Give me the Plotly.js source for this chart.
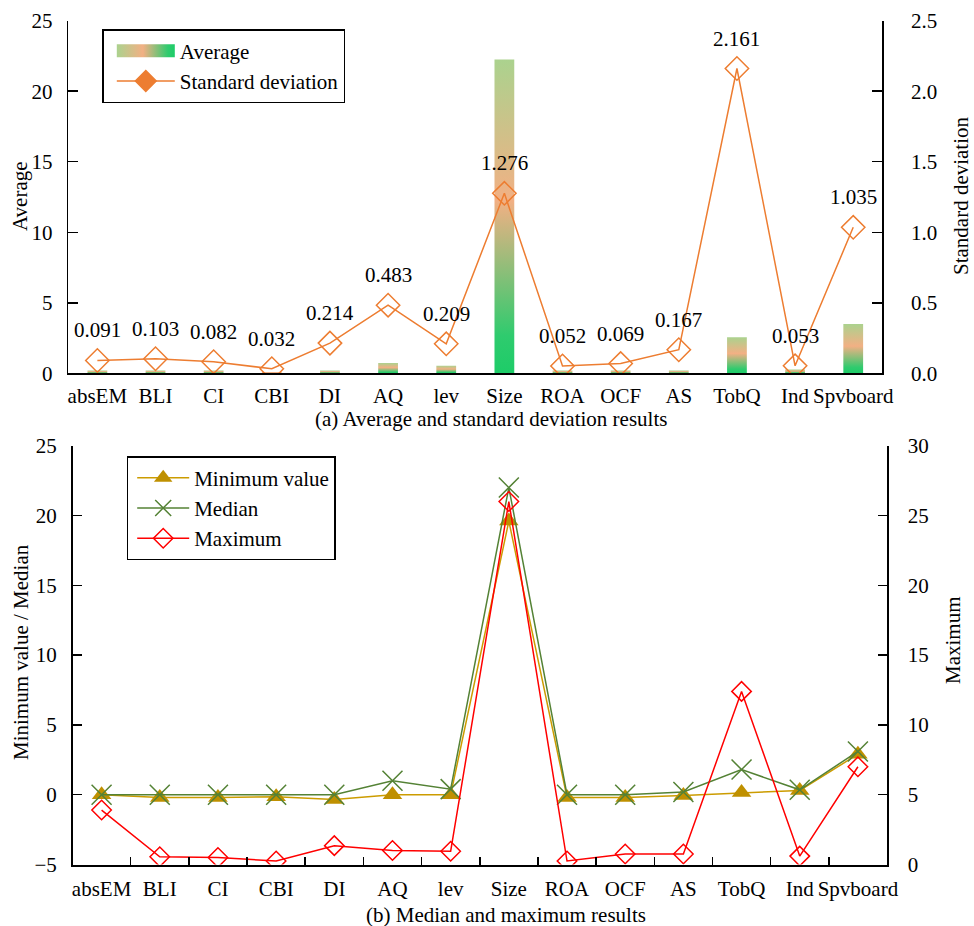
<!DOCTYPE html>
<html><head><meta charset="utf-8">
<script src="https://cdn.plot.ly/plotly-3.0.1.min.js"></script>
<style>html,body{margin:0;padding:0;background:#fff;} #chart{width:974px;height:926px;}</style>
</head><body><div id="chart"></div>
<script>
const categories = ['absEM','BLI','CI','CBI','DI','AQ','lev','Size','ROA','OCF','AS','TobQ','Ind','Spvboard'];
const averageValues = [0.2,0.2,0.2,0.1,0.2,0.73,0.54,22.25,0.2,0.2,0.2,2.55,0.27,3.5];
const stdValues = [0.091,0.103,0.082,0.032,0.214,0.483,0.209,1.276,0.052,0.069,0.167,2.161,0.053,1.035];
const minValues = [0.0,-0.2,-0.2,-0.15,-0.35,0.0,0.0,19.6,-0.2,-0.2,-0.05,0.15,0.3,2.9];
const medianValues = [0.0,0.0,0.0,0.0,0.0,1.0,0.4,22.0,0.0,0.0,0.2,1.8,0.35,3.1];
const maxValues = [3.9,0.55,0.5,0.25,1.35,1.0,0.95,26.0,0.25,0.75,0.75,12.4,0.6,7.0];
const avgTicks = [0,5,10,15,20,25];
const stdTicks = [0,0.5,1.0,1.5,2.0,2.5];
const minMedTicks = [-5,0,5,10,15,20,25];
const maxTicks = [0,5,10,15,20,25,30];

const FONT = 'Liberation Serif, Times New Roman, serif';
const W = 974, H = 926;
const px = v => v / W;
const py = v => 1 - v / H;

const traces = [
  {type:'bar', name:'Average', x:categories, y:averageValues, xaxis:'x', yaxis:'y',
   width:0.34, marker:{color:'#F2B084'}, legend:'legend'},
  {type:'scatter', mode:'lines+markers', name:'Standard deviation', x:categories, y:stdValues,
   xaxis:'x', yaxis:'y2', line:{color:'#ED7D31', width:1.5},
   marker:{symbol:'diamond-open', size:18, color:'#ED7D31', line:{width:1.5, color:'#ED7D31'}}, legend:'legend'},
  {type:'scatter', mode:'lines+markers', name:'Minimum value', x:categories, y:minValues,
   xaxis:'x2', yaxis:'y3', line:{color:'#CC9C00', width:1.5},
   marker:{symbol:'triangle-up', size:17, color:'#BF9000'}, legend:'legend2'},
  {type:'scatter', mode:'lines+markers', name:'Median', x:categories, y:medianValues,
   xaxis:'x2', yaxis:'y3', line:{color:'#548235', width:1.5},
   marker:{symbol:'x-thin-open', size:20, color:'#548235', line:{width:1.5, color:'#548235'}}, legend:'legend2'},
  {type:'scatter', mode:'lines+markers', name:'Maximum', x:categories, y:maxValues,
   xaxis:'x2', yaxis:'y4', line:{color:'#FF0000', width:1.5},
   marker:{symbol:'diamond-open', size:15, color:'#FF0000', line:{width:1.5, color:'#FF0000'}}, legend:'legend2'}
];

const tickFont = {family:FONT, size:21, color:'#000'};
const baseY = {showgrid:false, zeroline:false, showline:true, linecolor:'#000', linewidth:1.5,
  ticks:'inside', ticklen:10, tickwidth:1.5, tickcolor:'#000', tickfont:tickFont, fixedrange:true};

const annotations = stdValues.map((v,i)=>({
  x:categories[i], y:v, xref:'x', yref:'y2', yshift:30, showarrow:false,
  xanchor:'center', yanchor:'middle',
  text:v.toFixed(3), font:{family:FONT, size:21, color:'#000'}
}));
const titleFont = {family:FONT,size:21,color:'#000'};
function pa(x, y, text, angle){
  return {xref:'paper', yref:'paper', x:px(x), y:py(y), text:text, textangle:angle||0, showarrow:false,
    xanchor:'center', yanchor:'middle', font:titleFont, borderpad:0};
}
annotations.push(
  pa(20, 196, 'Average', -90),
  pa(961, 196, 'Standard deviation', -90),
  pa(491, 419, '(a) Average and standard deviation results'),
  pa(21, 652, 'Minimum value / Median', -90),
  pa(953, 640, 'Maximum', -90),
  pa(506, 915, '(b) Median and maximum results')
);

const layout = {
  width:W, height:H, margin:{l:0,r:0,t:0,b:0}, paper_bgcolor:'#fff', plot_bgcolor:'rgba(0,0,0,0)',
  font:{family:FONT, size:21, color:'#000'}, showlegend:true, hovermode:false, barmode:'overlay',
  xaxis:{domain:[px(68.3), px(882.3)], anchor:'y', type:'category', categoryarray:categories, range:[-0.5,13.5],
    showline:true, linecolor:'#000', linewidth:2, ticks:'', showgrid:false, zeroline:false, tickfont:tickFont,
    tickangle:0, ticklabelstandoff:2, fixedrange:true},
  yaxis:Object.assign({}, baseY, {domain:[py(373.3), py(20.7)], anchor:'x', range:[0,25], tickvals:avgTicks, ticklabelstandoff:10}),
  yaxis2:Object.assign({}, baseY, {overlaying:'y', side:'right', anchor:'x', range:[0,2.5], tickvals:stdTicks,
    ticktext:stdTicks.map(v=>v.toFixed(1)), ticklabelstandoff:23}),
  xaxis2:{domain:[px(72.5), px(887)], anchor:'y3', type:'category', categoryarray:categories, range:[-0.5,13.5],
    showline:true, linecolor:'#000', linewidth:2, ticks:'inside', tickson:'boundaries', ticklen:8, tickwidth:1.5, tickcolor:'#000',
    showgrid:false, zeroline:false, tickfont:tickFont, tickangle:0, ticklabelstandoff:4, fixedrange:true},
  yaxis3:Object.assign({}, baseY, {domain:[py(864.5), py(445.7)], anchor:'x2', range:[-5,25], tickvals:minMedTicks, ticklen:9, ticklabelstandoff:10}),
  yaxis4:Object.assign({}, baseY, {overlaying:'y3', side:'right', anchor:'x2', range:[0,30], tickvals:maxTicks, ticklen:9, ticklabelstandoff:15}),
  legend:{x:px(102.3), y:py(29), xanchor:'left', yanchor:'top', bgcolor:'#fff', bordercolor:'#000', borderwidth:1.5,
    font:{family:FONT,size:21,color:'#000'}, itemwidth:58, indentation:8, tracegroupgap:0},
  legend2:{x:px(126.7), y:py(456), xanchor:'left', yanchor:'top', bgcolor:'#fff', bordercolor:'#000', borderwidth:1.5,
    font:{family:FONT,size:21,color:'#000'}, itemwidth:52, indentation:4, tracegroupgap:0},
  annotations:annotations
};

function addGradients(){
  const svg = document.querySelector('#chart .main-svg');
  if(!svg) return;
  const NS = 'http://www.w3.org/2000/svg';
  let defs = svg.querySelector('defs');
  if(!defs){ defs = document.createElementNS(NS,'defs'); svg.insertBefore(defs, svg.firstChild); }
  const stops = [[0,'#ABD28E'],[0.45,'#F2B084'],[0.88,'#2FCB6E'],[1,'#1DCC68']];
  function mk(id, x2, y2){
    const g = document.createElementNS(NS,'linearGradient');
    g.setAttribute('id', id); g.setAttribute('x1','0'); g.setAttribute('y1','0');
    g.setAttribute('x2', x2); g.setAttribute('y2', y2);
    stops.forEach(s=>{ const st=document.createElementNS(NS,'stop'); st.setAttribute('offset', s[0]); st.setAttribute('stop-color', s[1]); g.appendChild(st); });
    defs.appendChild(g);
  }
  mk('avgGradV','0','1'); mk('avgGradH','1','0');
  document.querySelectorAll('#chart .barlayer .point path').forEach(p=>{ p.style.fill='url(#avgGradV)'; });
  document.querySelectorAll('#chart g.traces').forEach(t=>{
    const txt = t.querySelector('text.legendtext');
    if(!txt) return;
    const name = txt.textContent;
    if(name==='Average'){
      const p = t.querySelector('path.legendbar') || t.querySelector('.legendpoints path');
      if(p){ p.setAttribute('d','M29,6.5H-29V-6.5H29Z'); p.style.fill='url(#avgGradH)'; p.style.stroke='none'; }
    }
    if(name==='Standard deviation'){
      t.querySelectorAll('path.scatterpts').forEach(p=>{ p.style.fill='#ED7D31'; });
    }
  });
}

Plotly.newPlot('chart', traces, layout, {staticPlot:true, displayModeBar:false}).then(addGradients);
</script>
</body></html>
